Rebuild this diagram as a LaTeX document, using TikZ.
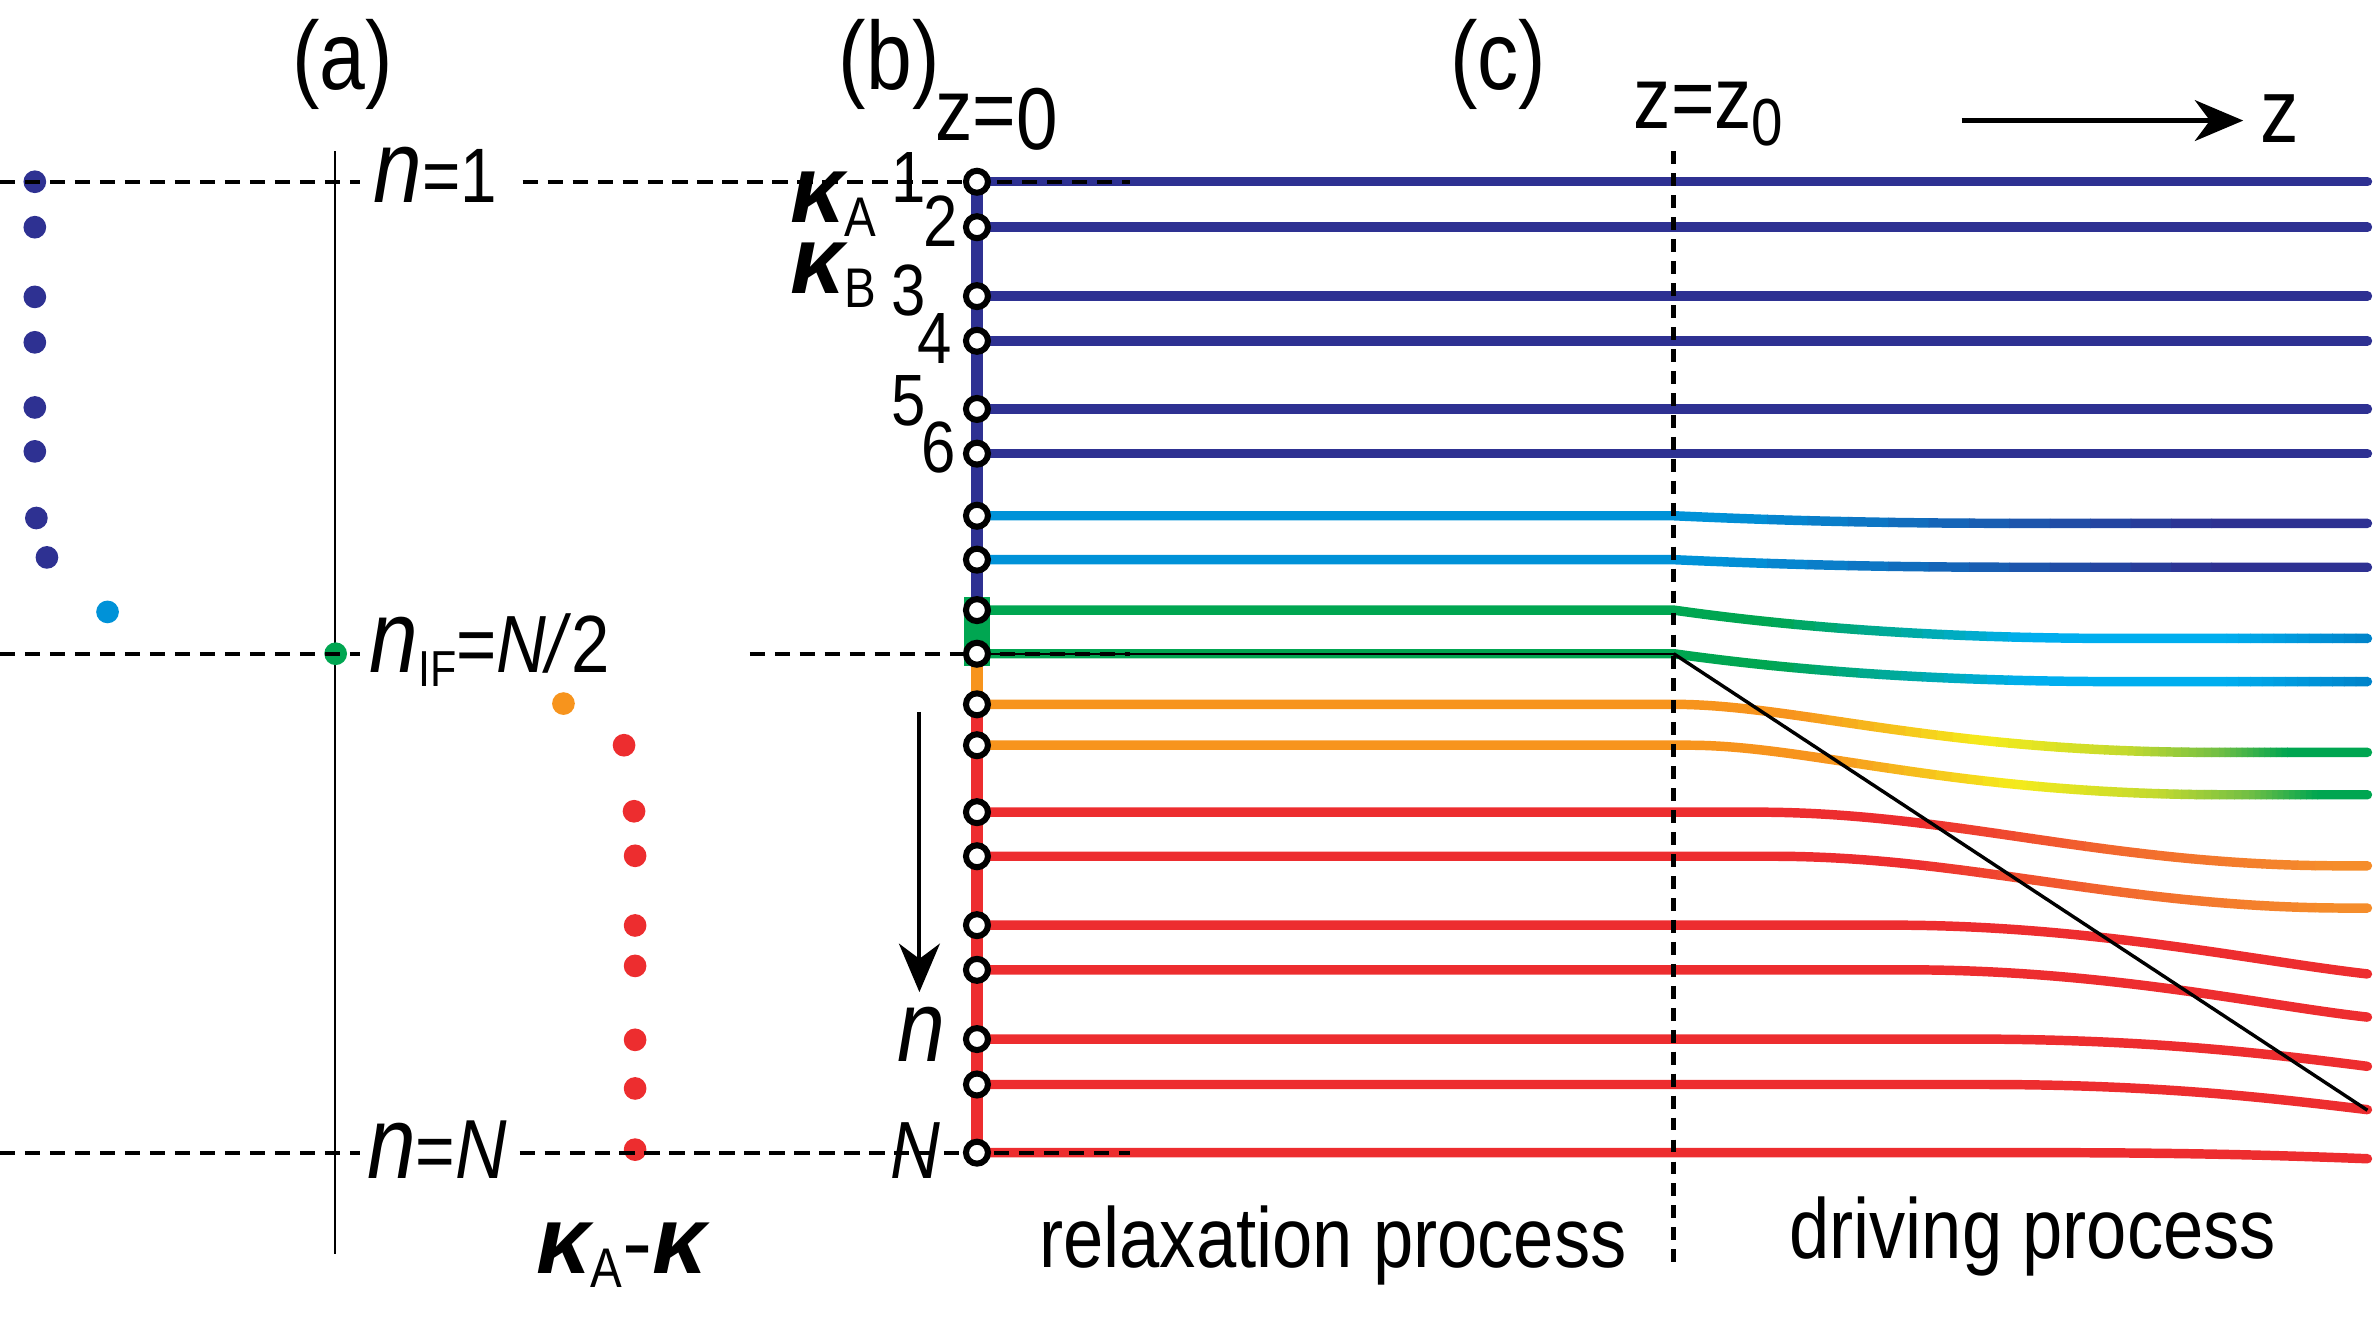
\documentclass[tikz,border=0pt]{standalone}
\usepackage{fontspec}
\setmainfont{Liberation Sans}[FakeStretch=0.85]
\newfontfamily\kfont{Liberation Sans}
\usetikzlibrary{arrows.meta}
\definecolor{db}{HTML}{2E3192}
\definecolor{lb}{HTML}{0092D8}
\definecolor{gr}{HTML}{00A651}
\definecolor{cy}{HTML}{00AEEF}
\definecolor{bltwo}{HTML}{0083CA}
\definecolor{orc}{HTML}{F7941D}
\definecolor{yel}{HTML}{F5EB1B}
\definecolor{ygr}{HTML}{C2D92F}
\definecolor{lgr}{HTML}{72BF44}
\definecolor{rd}{HTML}{ED2D2F}
\definecolor{ror}{HTML}{F26A2E}
\definecolor{ortwo}{HTML}{F58D2B}
\newcommand\fz[1]{\fontsize{#1}{#1}\selectfont}
\newcommand\kap{{\kfont\bfseries\itshape\fz{36pt}κ}}
\newcommand\clipdraw[4]{\begin{scope}\clip (#2,-50) rectangle (#3,950);\draw[lvl,draw=#4] #1;\end{scope}}
\newcommand\gseg[5]{%
  \foreach \k in {0,...,11}{%
    \pgfmathsetmacro\gxl{#2+(#3-#2)*\k/12}%
    \pgfmathsetmacro\gxr{#2+(#3-#2)*(\k+1)/12+0.4}%
    \pgfmathtruncatemacro\gpc{round(100*(\k+0.5)/12)}%
    \clipdraw{#1}{\gxl}{\gxr}{#5!\gpc!#4}}}
\begin{document}
\begin{tikzpicture}[x=0.02cm,y=-0.02cm,
  lvl/.style={line width=0.125cm,line cap=round},
  chain/.style={line width=0.16cm},
  ring/.style={circle,draw=black,fill=white,line width=0.08cm,minimum size=0.29cm,inner sep=0pt},
  dot/.style={circle,inner sep=0pt,minimum size=0.3cm,draw=none},
  dsh/.style={line width=0.05cm,dash pattern=on 0.2cm off 0.13cm},
  vdsh/.style={line width=0.06cm,dash pattern=on 0.17cm off 0.12cm},
  txt/.style={inner sep=0pt,anchor=base},
  arr/.style={line width=0.055cm,-{Stealth[length=0.64cm,width=0.54cm,inset=0.2cm]}}]
\path[use as bounding box] (0,0) rectangle (1568,877.4);

% ---------- panel (a) ----------
\draw[line width=0.022cm] (221,100) -- (221,828);
\foreach \x/\y [count=\i] in {23/120,23/150,23/196,23/226,23/269,23/298,24/342,31/368}
  \node[dot,fill=db] (d\i) at (\x,\y) {};
\node[dot,fill=lb] (d9) at (71,404) {};
\node[dot,fill=gr] (d10) at (221.6,431.6) {};
\node[dot,fill=orc] (d11) at (372,464.5) {};
\foreach \x/\y [count=\i from 12] in {412/492,418.6/535.6,419.3/565,419.3/611,419.3/637.7,419.3/686.5,419.3/718.6,419.3/759}
  \node[dot,fill=rd] (d\i) at (\x,\y) {};

% ---------- level lines ----------
\draw[chain,db] (645,120) -- (645,394);
\fill[gr] (636.4,394) rectangle (653.6,440);
\draw[chain,orc] (645,440) -- (645,465);
\draw[chain,rd] (645,465) -- (645,761);

\foreach \y in {120,150,195.5,225,270,299.5}
  \draw[lvl,db] (645,\y) -- (1563,\y);

\def\pSeven{(645,340.5) -- (1105,340.5) .. controls (1160,343) and (1230,345.5) .. (1330,345.5) -- (1563,345.5)}
\def\pEight{(645,369.5) -- (1105,369.5) .. controls (1160,372) and (1230,374.5) .. (1330,374.5) -- (1563,374.5)}
\def\pNine{(645,402.8) -- (1105,402.8) .. controls (1165,411.3) and (1260,421.5) .. (1400,421.5) -- (1563,421.5)}
\def\pTen{(645,431.6) -- (1105,431.6) .. controls (1165,440) and (1260,450) .. (1400,450) -- (1563,450)}
\def\pEleven{(645,465) -- (1105,465) .. controls (1185,465) and (1280,496.7) .. (1460,496.7) -- (1563,496.7)}
\def\pTwelve{(645,492) -- (1115,492) .. controls (1195,492) and (1290,524.7) .. (1470,524.7) -- (1563,524.7)}
\def\pThirteen{(645,536.2) -- (1160,536.2) .. controls (1290,536.2) and (1390,571.6) .. (1545,571.6) -- (1563,571.6)}
\def\pFourteen{(645,565.3) -- (1170,565.3) .. controls (1300,565.3) and (1400,599.5) .. (1550,599.5) -- (1563,599.5)}

% lines 7, 8 : light blue -> dark blue
\foreach \p in {\pSeven,\pEight}{%
  \clipdraw{\p}{0}{1140.3}{lb}
  \gseg{\p}{1140}{1460}{lb}{db}
  \clipdraw{\p}{1460}{1600}{db}}
% lines 9, 10 : green -> cyan -> blue
\foreach \p in {\pNine,\pTen}{%
  \clipdraw{\p}{0}{1170.3}{gr}
  \gseg{\p}{1170}{1340}{gr}{cy}
  \clipdraw{\p}{1340}{1470.3}{cy}
  \gseg{\p}{1470}{1563}{cy}{bltwo}
  \clipdraw{\p}{1563}{1600}{bltwo}}
% lines 11, 12 : orange -> yellow -> green
\foreach \p/\s in {\pEleven/0,\pTwelve/20}{%
  \pgfmathsetmacro\sa{1185+\s}\pgfmathsetmacro\sb{1310+\s}%
  \pgfmathsetmacro\sc{1405+\s}\pgfmathsetmacro\sd{1465+\s}%
  \pgfmathsetmacro\se{1510+\s}%
  \clipdraw{\p}{0}{\sa+0.3}{orc}
  \gseg{\p}{\sa}{\sb}{orc}{yel}
  \gseg{\p}{\sb}{\sc}{yel}{ygr}
  \gseg{\p}{\sc}{\sd}{ygr}{lgr}
  \gseg{\p}{\sd}{\se}{lgr}{gr}
  \clipdraw{\p}{\se}{1600}{gr}}
% lines 13, 14 : red -> orange
\foreach \p in {\pThirteen,\pFourteen}{%
  \clipdraw{\p}{0}{1260.3}{rd}
  \gseg{\p}{1260}{1400}{rd}{ror}
  \gseg{\p}{1400}{1540}{ror}{ortwo}
  \clipdraw{\p}{1540}{1600}{ortwo}}
% lines 15 - 19 : red
\draw[lvl,rd] (645,610.8) -- (1250,610.8) .. controls (1380,610.8) and (1490,634.8) .. (1563,643);
\draw[lvl,rd] (645,640.3) -- (1260,640.3) .. controls (1390,640.3) and (1495,664) .. (1563,671.5);
\draw[lvl,rd] (645,686) -- (1300,686) .. controls (1420,686) and (1500,696) .. (1563,704);
\draw[lvl,rd] (645,716) -- (1310,716) .. controls (1425,716) and (1500,725) .. (1563,732.6);
\draw[lvl,rd] (645,761) -- (1350,761) .. controls (1450,761) and (1510,763) .. (1563,765);

% ---------- black guide lines ----------
\coordinate (zs) at (645,431.6);
\coordinate (zf) at (1105,431.6);
\coordinate (ze) at (1563,733);
\draw[line width=0.025cm] (zs) -- (zf);
\draw[line width=0.045cm] (zf) -- (ze);
\coordinate (vt) at (1105,100);
\coordinate (vb) at (1105,833);
\draw[vdsh] (vt) -- (vb);

% ---------- dashed level markers ----------
\draw[dsh] (0,120) -- (238,120);
\draw[dsh] (345,120) -- (746,120);
\draw[dsh] (0,431.6) -- (238,431.6);
\draw[dsh] (495,431.6) -- (746,431.6);
\draw[dsh] (0,761) -- (238,761);
\draw[dsh] (343,761) -- (746,761);

% ---------- sites ----------
\foreach \y [count=\i] in {120,150,195.5,225,270,299.5,340.5,369.5,402.8,431.6,465,492,536.2,565.3,610.8,640.3,686,716,761}
  \node[ring] (c\i) at (645,\y) {};

% ---------- arrows ----------
\coordinate (na) at (607,470);
\coordinate (nb) at (607,655);
\draw[arr] (na) -- (nb);
\coordinate (za) at (1295,79.6);
\coordinate (zb) at (1481,79.6);
\draw[arr] (za) -- (zb);

% ---------- labels ----------
\node[txt] (la) at (226,59) {\fz{36.4pt}(a)};
\node[txt] (lbb) at (587,59) {\fz{36.4pt}(b)};
\node[txt] (lc) at (989,59) {\fz{36.4pt}(c)};
\node[txt] (zzero) at (658,93) {\fz{33pt}z=\raisebox{-0.12cm}{0}};
\node[txt] (zznot) at (1128,85) {\fz{33pt}z=z\raisebox{-0.22cm}{\fz{25pt}0}};
\node[txt] (zlab) at (1505,94) {\fz{34pt}z};
\node[txt] (none) at (287.5,134) {{\fz{38.7pt}\itshape n}\fz{29pt}=1};
\node[txt] (nif) at (323.5,444) {{\fz{38.7pt}\itshape n}\raisebox{-0.18cm}{\fz{19pt}IF}\fz{30.5pt}=\textit{N/}2};
\node[txt] (nN) at (288.5,778) {{\fz{38.7pt}\itshape n}\fz{30pt}=\fz{31.5pt}\textit{N}};
\node[txt] (l1) at (600,134) {\fz{27.3pt}1};
\node[txt] (l2) at (621,163) {\fz{27.3pt}2};
\node[txt] (l3) at (600,208) {\fz{27.3pt}3};
\node[txt] (l4) at (617,240) {\fz{27.3pt}4};
\node[txt] (l5) at (600,281) {\fz{27.3pt}5};
\node[txt] (l6) at (620,312) {\fz{27.3pt}6};
\node[txt] (ka) at (550,147) {\kap\raisebox{-0.18cm}[0pt][0pt]{\fz{21pt}A}};
\node[txt] (kb) at (550,194) {\kap\raisebox{-0.18cm}[0pt][0pt]{\fz{21pt}B}};
\node[txt] (nlab) at (608,701) {\fz{38pt}\itshape n};
\node[txt] (Nlab) at (604.5,778) {\fz{30.5pt}\itshape N};
\node[txt] (kak) at (410.5,841) {\kap\raisebox{-0.18cm}{\fz{21pt}A}{\kfont\fz{34pt}-}\kap};
\node[txt] (rp) at (880,837) {\fz{32pt}relaxation process};
\node[txt] (dp) at (1342,831) {\fz{32pt}driving process};
\end{tikzpicture}
\end{document}
